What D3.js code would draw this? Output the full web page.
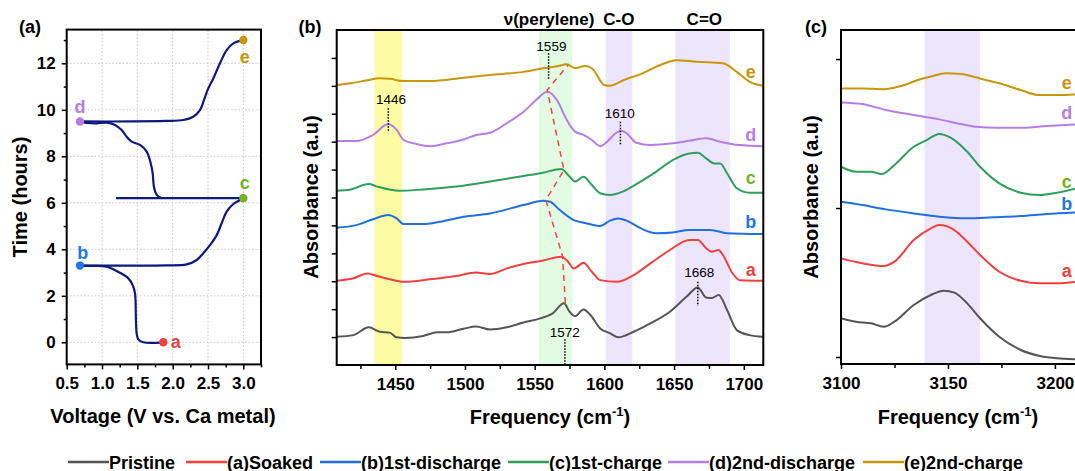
<!DOCTYPE html>
<html><head><meta charset="utf-8">
<script src="https://cdn.jsdelivr.net/npm/d3@7"></script>
<style>body{margin:0;background:#fff;} svg{display:block;font-family:"Liberation Sans",Arial,sans-serif;}</style>
</head><body>
<svg id="chart" width="1075" height="471"></svg>
<script>
// ---------------- DATA ----------------
const seriesNames = ["Pristine","(a)Soaked","(b)1st-discharge","(c)1st-charge","(d)2nd-discharge","(e)2nd-charge"];
const seriesLetters = ["", "a", "b", "c", "d", "e"];

// Panel (a): voltage (V) vs time (h), segments
const segDis1V = [1.867,1.584,1.513,1.49,1.48,1.467,1.434,1.372,1.254,1.066,0.876,0.688];
const segDis1T = [0,0,0.13,0.39,0.96,2.1,2.46,2.75,2.99,3.25,3.29,3.3];
const segCh1V  = [0.688,1.43,1.9,2.198,2.34,2.433,2.528,2.623,2.693,2.764,2.858,2.952,3.0];
const segCh1T  = [3.3,3.3,3.31,3.35,3.54,3.83,4.18,4.61,5.12,5.62,5.95,6.12,6.2];
const segRestV = [3.0,1.198];
const segRestT = [6.2,6.2];
const segDis2V = [1.844,1.774,1.735,1.717,1.689,1.632,1.537,1.42,1.349,1.278,1.183,1.066,0.925,0.783,0.688];
const segDis2T = [6.2,6.34,6.69,7.27,7.7,8.2,8.49,8.63,8.84,9.13,9.35,9.45,9.42,9.44,9.5];
const segCh2V  = [0.688,1.43,1.9,2.15,2.29,2.386,2.443,2.504,2.575,2.669,2.764,2.858,3.0];
const segCh2T  = [9.5,9.5,9.52,9.56,9.7,9.99,10.42,10.92,11.35,12.0,12.57,12.86,13.0];
const statePointV = [1.867,0.688,3.0,0.688,3.0];
const statePointT = [0,3.3,6.2,9.5,13.0];
const stateLabelV = [2.044,0.726,3.02,0.688,3.02];
const stateLabelT = [0,3.84,6.86,10.1,12.26];

// Panel (b): frequency (cm-1) vs absorbance (a.u., offset)
const bPristine = [[1408,1.01],[1420,1.07],[1431,1.35],[1439,1.19],[1446,1.16],[1451,0.99],[1457,0.97],[1470,1.04],[1480,1.17],[1487,1.17],[1499,1.3],[1508,1.38],[1518,1.27],[1530,1.35],[1542,1.52],[1554,1.67],[1563,1.85],[1571,2.21],[1575,1.91],[1579,1.75],[1585,1.99],[1590,1.79],[1597,1.31],[1604,1.14],[1610,0.99],[1621,1.19],[1633,1.49],[1647,1.91],[1659,2.45],[1667,2.78],[1673,2.42],[1677,2.4],[1682,2.51],[1688,1.97],[1695,1.25],[1704,1.07],[1714,1.01]];
const bSoaked = [[1408,3.02],[1420,3.11],[1430,3.28],[1437,3.19],[1446,3.07],[1456,2.98],[1475,3.07],[1494,3.19],[1508,3.31],[1518,3.26],[1530,3.46],[1542,3.62],[1556,3.74],[1569,3.88],[1574,3.7],[1578,3.46],[1585,3.66],[1591,3.34],[1597,3.04],[1609,2.98],[1621,3.22],[1633,3.64],[1647,4.12],[1661,4.48],[1667,4.48],[1673,4.18],[1677,4.06],[1682,4.12],[1685,3.94],[1692,3.28],[1697,3.04],[1714,3.02]];
const bDis1 = [[1408,4.92],[1422,5.01],[1434,5.22],[1445,5.37],[1451,5.25],[1456,5.05],[1470,5.05],[1482,5.13],[1499,5.31],[1518,5.43],[1542,5.73],[1556,5.88],[1561,5.85],[1568,5.55],[1578,5.19],[1587,5.08],[1597,4.98],[1604,5.17],[1610,5.25],[1616,5.17],[1626,4.9],[1637,4.72],[1649,4.75],[1661,4.84],[1676,4.84],[1688,4.72],[1714,4.69]];
const bCh1 = [[1408,6.24],[1418,6.29],[1431,6.48],[1437,6.39],[1453,6.24],[1470,6.29],[1494,6.39],[1518,6.57],[1542,6.77],[1556,6.89],[1569,7.02],[1574,6.81],[1579,6.57],[1585,6.74],[1591,6.45],[1597,6.15],[1604,6.09],[1614,6.23],[1623,6.48],[1637,6.92],[1649,7.34],[1661,7.58],[1667,7.6],[1673,7.4],[1679,7.22],[1683,7.22],[1688,6.87],[1695,6.33],[1704,6.17],[1714,6.17]];
const bDis2 = [[1408,8.02],[1422,8.02],[1434,8.24],[1445,8.63],[1451,8.42],[1456,8.06],[1465,7.92],[1475,7.84],[1487,7.94],[1499,8.08],[1508,8.24],[1518,8.32],[1530,8.66],[1542,9.07],[1551,9.49],[1559,9.79],[1566,9.49],[1573,8.78],[1579,8.36],[1585,8.24],[1591,8.06],[1597,7.84],[1602,8.0],[1608,8.3],[1612,8.39],[1616,8.3],[1623,7.96],[1633,7.88],[1649,7.94],[1661,8.03],[1673,8.12],[1683,8.0],[1697,7.88],[1714,7.84]];
const bCh2 = [[1408,10.03],[1418,10.09],[1430,10.2],[1439,10.27],[1446,10.25],[1456,10.17],[1475,10.17],[1499,10.29],[1518,10.39],[1542,10.5],[1556,10.63],[1566,10.7],[1573,10.77],[1579,10.63],[1586,10.71],[1591,10.63],[1600,10.03],[1604,10.0],[1614,10.21],[1626,10.42],[1637,10.68],[1652,10.92],[1666,10.86],[1685,10.81],[1695,10.5],[1704,10.15],[1714,10.0]];
const bBands = [[1435,1455],[1553,1577],[1601,1620],[1651,1690]];
const peakShiftF = [1572,1570,1558,1571,1559,1574];
const peakShiftA = [2.22,3.9,5.91,6.98,9.85,10.75];
const peakLabels = ["1446","1559","1610","1668","1572"];
const peakLineF  = [1445,1560,1611.5,1667,1571.7];
const peakLineA0 = [9.2,11.17,8.71,2.98,0.92];
const peakLineA1 = [8.35,10.24,7.85,2.11,0.03];
const peakLabelF = [1447,1562,1611,1668,1571.6];
const peakLabelA = [9.35,11.26,8.84,3.14,0.99];
const headerLabels = ["ν(perylene)","C-O","C=O"];
const headerF = [1560.3,1610.4,1671.7];
const bLetterA = [3.40,5.13,6.70,8.24,10.5];

// Panel (c)
const cPristine = [[3100,0.26],[3107,0.237],[3114,0.226],[3120,0.203],[3125,0.237],[3134,0.349],[3142,0.416],[3148,0.445],[3153,0.432],[3159,0.36],[3165,0.26],[3174,0.136],[3184,0.047],[3193,0.007],[3201,-0.009],[3210,-0.015]];
const cSoaked = [[3100,0.662],[3110,0.629],[3120,0.611],[3125,0.64],[3134,0.785],[3142,0.864],[3146,0.886],[3153,0.852],[3159,0.774],[3165,0.685],[3174,0.572],[3184,0.512],[3193,0.495],[3201,0.495],[3210,0.505]];
const cDis1 = [[3100,1.042],[3110,1.02],[3121,0.991],[3134,0.964],[3146,0.942],[3159,0.931],[3171,0.938],[3184,0.946],[3196,0.96],[3210,0.971]];
const cCh1 = [[3100,1.277],[3107,1.244],[3114,1.244],[3119,1.228],[3125,1.289],[3134,1.411],[3140,1.456],[3146,1.497],[3151,1.474],[3159,1.378],[3165,1.277],[3174,1.166],[3184,1.103],[3193,1.087],[3201,1.103],[3210,1.132]];
const cDis2 = [[3100,1.709],[3110,1.698],[3121,1.658],[3134,1.624],[3146,1.595],[3156,1.564],[3163,1.546],[3173,1.539],[3185,1.539],[3196,1.55],[3210,1.562]];
const cCh2 = [[3100,1.803],[3110,1.803],[3120,1.797],[3128,1.819],[3137,1.864],[3143,1.886],[3149,1.904],[3156,1.899],[3165,1.87],[3174,1.837],[3184,1.792],[3193,1.758],[3201,1.758],[3210,1.763]];
const cBand = [3139,3165];
const cLetterA = [0.579,1.027,1.177,1.636,1.837];

const aXTicks = [0.5,1.0,1.5,2.0,2.5,3.0];
const aXMinor = [0.75,1.25,1.75,2.25,2.75,3.25];
const aYTicks = [0,2,4,6,8,10,12];
const aYMinor = [1,3,5,7,9,11,13];
const bXTicks = [1450,1500,1550,1600,1650,1700];
const bXMinor = [1425,1475,1525,1575,1625,1675];
const bYTicks = [1,2,3,4,5,6,7,8,9,10,11];
const cXTicks = [3100,3150,3200];
const cXMinor = [3125,3175];
const cYTicks = [0,1,2];

// ---------------- STYLES ----------------
const seriesColors = ["#555555","#f23f3f","#1f6fe0","#2e9e5b","#b67de6","#c8960c"];
const letterColors = ["#555555","#f23f3f","#1f78e0","#72b41f","#b67de6","#c8960c"];
const bandColors = ["#fdfca4","#e3fbe3","#ede5fc","#ede5fc"];
const FONT = '"Liberation Sans",Arial,sans-serif';

const svg = d3.select("#chart");

function styleAxis(g, size){
  g.select(".domain").remove();
  g.selectAll("line").attr("stroke","#000").attr("stroke-width",1.5);
  g.selectAll("text").attr("font-size",size||17).attr("font-weight","bold").attr("fill","#000").attr("font-family",FONT);
}
function frame(x0,y0,x1,y1){
  svg.append("rect").attr("x",x0).attr("y",y0).attr("width",x1-x0).attr("height",y1-y0)
    .attr("fill","none").attr("stroke","#000").attr("stroke-width",2);
}
function boldText(x,y,txt,size,color,anchor){
  return svg.append("text").attr("x",x).attr("y",y).text(txt).attr("font-size",size).attr("font-weight","bold")
    .attr("fill",color||"#000").attr("text-anchor",anchor||"middle").attr("font-family",FONT);
}
const intFmt = d3.format("d");

// ---------------- PANEL A ----------------
const xA = d3.scaleLinear().domain([0.5,3.25]).range([66.7,261]);
const yA = d3.scaleLinear().domain([-0.95,13.45]).range([364.4,29.6]);
svg.append("g").selectAll("line").data(aXTicks.slice(1)).join("line")
  .attr("x1",d=>xA(d)).attr("x2",d=>xA(d)).attr("y1",yA.range()[0]).attr("y2",yA.range()[1])
  .attr("stroke","#c8c8c8").attr("stroke-width",1).attr("stroke-dasharray","1.5,2");
svg.append("g").selectAll("line").data(aYTicks).join("line")
  .attr("y1",d=>yA(d)).attr("y2",d=>yA(d)).attr("x1",xA.range()[0]).attr("x2",xA.range()[1])
  .attr("stroke","#c8c8c8").attr("stroke-width",1).attr("stroke-dasharray","1.5,2");
const lineA = d3.line().x(d=>xA(d[0])).y(d=>yA(d[1])).curve(d3.curveCatmullRom.alpha(0.5));
const segs = [[segDis1V,segDis1T],[segCh1V,segCh1T],[segRestV,segRestT],[segDis2V,segDis2T],[segCh2V,segCh2T]];
segs.forEach(([v,t])=>{
  svg.append("path").attr("d",lineA(v.map((d,i)=>[d,t[i]]))).attr("fill","none")
    .attr("stroke","#0b1a7c").attr("stroke-width",2.2).attr("stroke-linejoin","round");
});
statePointV.forEach((v,i)=>{
  svg.append("circle").attr("cx",xA(v)).attr("cy",yA(statePointT[i])).attr("r",4.2).attr("fill",letterColors[i+1]);
  boldText(xA(stateLabelV[i]),yA(stateLabelT[i]),seriesLetters[i+1],18,letterColors[i+1]).attr("dominant-baseline","central");
});
frame(66.7,29.6,261,364.4);
svg.append("g").attr("transform","translate(0,364.4)").call(d3.axisBottom(xA).tickValues(aXTicks).tickFormat(d3.format(".1f")).tickSize(5).tickPadding(8)).call(styleAxis);
svg.append("g").attr("transform","translate(0,364.4)").call(d3.axisBottom(xA).tickValues(aXMinor).tickFormat("").tickSize(3)).call(styleAxis);
svg.append("g").attr("transform","translate(66.7,0)").call(d3.axisLeft(yA).tickValues(aYTicks).tickFormat(intFmt).tickSize(5).tickPadding(6)).call(styleAxis);
svg.append("g").attr("transform","translate(66.7,0)").call(d3.axisLeft(yA).tickValues(aYMinor.filter(d=>d<13.45)).tickFormat("").tickSize(3)).call(styleAxis);
boldText(30,33,"(a)",18,"#000");
boldText(163,423,"Voltage (V vs. Ca metal)",20,"#000");
boldText(0,0,"Time (hours)",20,"#000").attr("transform","translate(27,197) rotate(-90)");

// ---------------- PANEL B ----------------
const xB = d3.scaleLinear().domain([1408,1714]).range([336.7,763.3]);
const yB = d3.scaleLinear().domain([0,12]).range([365,30]);
bBands.forEach((b,i)=>{
  svg.append("rect").attr("x",xB(b[0])).attr("width",xB(b[1])-xB(b[0])).attr("y",30).attr("height",335).attr("fill",bandColors[i]);
});
const lineB = d3.line().x(d=>xB(d[0])).y(d=>yB(d[1])).curve(d3.curveMonotoneX);
[bPristine,bSoaked,bDis1,bCh1,bDis2,bCh2].forEach((s,i)=>{
  svg.append("path").attr("d",lineB(s)).attr("fill","none").attr("stroke",seriesColors[i]).attr("stroke-width",2);
});
svg.append("path").attr("d",d3.line().x(d=>xB(d[0])).y(d=>yB(d[1]))(peakShiftF.map((f,i)=>[f,peakShiftA[i]])))
  .attr("fill","none").attr("stroke","#f04545").attr("stroke-width",1.5).attr("stroke-dasharray","6,5");
peakLabels.forEach((l,i)=>{
  svg.append("line").attr("x1",xB(peakLineF[i])).attr("x2",xB(peakLineF[i])).attr("y1",yB(peakLineA0[i])).attr("y2",yB(peakLineA1[i]))
    .attr("stroke","#000").attr("stroke-width",1.5).attr("stroke-dasharray","1.5,1.5");
  svg.append("text").attr("x",xB(peakLabelF[i])).attr("y",yB(peakLabelA[i])).text(l).attr("font-size",13.5)
    .attr("text-anchor","middle").attr("fill","#000").attr("font-family",FONT);
});
headerLabels.forEach((l,i)=>boldText(xB(headerF[i]),24.5,l,17,"#000"));
bLetterA.forEach((a,i)=>boldText(xB(1705),yB(a),seriesLetters[i+1],18,letterColors[i+1]).attr("dominant-baseline","central"));
frame(336.7,30,763.3,365);
svg.append("g").attr("transform","translate(0,365)").call(d3.axisBottom(xB).tickValues(bXTicks).tickFormat(intFmt).tickSize(5).tickPadding(8)).call(styleAxis);
svg.append("g").attr("transform","translate(0,365)").call(d3.axisBottom(xB).tickValues(bXMinor).tickFormat("").tickSize(4)).call(styleAxis);
svg.append("g").attr("transform","translate(336.7,0)").call(d3.axisLeft(yB).tickValues(bYTicks).tickFormat("").tickSize(5)).call(styleAxis);
boldText(310,33,"(b)",18,"#000");
const fb = boldText(550,424,"Frequency (cm",20,"#000");
fb.append("tspan").text("-1").attr("font-size",13).attr("dy",-8);
fb.append("tspan").text(")").attr("dy",8);
boldText(0,0,"Absorbance (a.u)",20,"#000").attr("transform","translate(318,197) rotate(-90)");

// ---------------- PANEL C ----------------
const xC = d3.scaleLinear().domain([3100,3213.6]).range([841,1084]);
const yC = d3.scaleLinear().domain([-0.047,2.195]).range([364,30]);
svg.append("rect").attr("x",xC(cBand[0])).attr("width",xC(cBand[1])-xC(cBand[0])).attr("y",30).attr("height",334).attr("fill","#ede5fc");
const lineC = d3.line().x(d=>xC(d[0])).y(d=>yC(d[1])).curve(d3.curveMonotoneX);
[cPristine,cSoaked,cDis1,cCh1,cDis2,cCh2].forEach((s,i)=>{
  svg.append("path").attr("d",lineC(s)).attr("fill","none").attr("stroke",seriesColors[i]).attr("stroke-width",2);
});
cLetterA.forEach((a,i)=>boldText(xC(3205.5),yC(a),seriesLetters[i+1],18,letterColors[i+1]).attr("dominant-baseline","central"));
frame(841,30,1084,364);
svg.append("g").attr("transform","translate(0,364)").call(d3.axisBottom(xC).tickValues(cXTicks).tickFormat(intFmt).tickSize(5).tickPadding(8)).call(styleAxis);
svg.append("g").attr("transform","translate(0,364)").call(d3.axisBottom(xC).tickValues(cXMinor).tickFormat("").tickSize(4)).call(styleAxis);
svg.append("g").attr("transform","translate(841,0)").call(d3.axisLeft(yC).tickValues(cYTicks).tickFormat("").tickSize(5)).call(styleAxis);
boldText(816,33,"(c)",18,"#000");
const fc = boldText(958,424,"Frequency (cm",20,"#000");
fc.append("tspan").text("-1").attr("font-size",13).attr("dy",-8);
fc.append("tspan").text(")").attr("dy",8);
boldText(0,0,"Absorbance (a.u)",20,"#000").attr("transform","translate(818,197) rotate(-90)");

// ---------------- LEGEND ----------------
const legendLineX = [68,186,320,508,668,863];
seriesNames.forEach((n,i)=>{
  const x = legendLineX[i];
  svg.append("line").attr("x1",x).attr("x2",x+41).attr("y1",462).attr("y2",462).attr("stroke",seriesColors[i]).attr("stroke-width",2.5);
  boldText(x+41,468.5,n,18,"#000","start");
});
</script>
</body></html>
